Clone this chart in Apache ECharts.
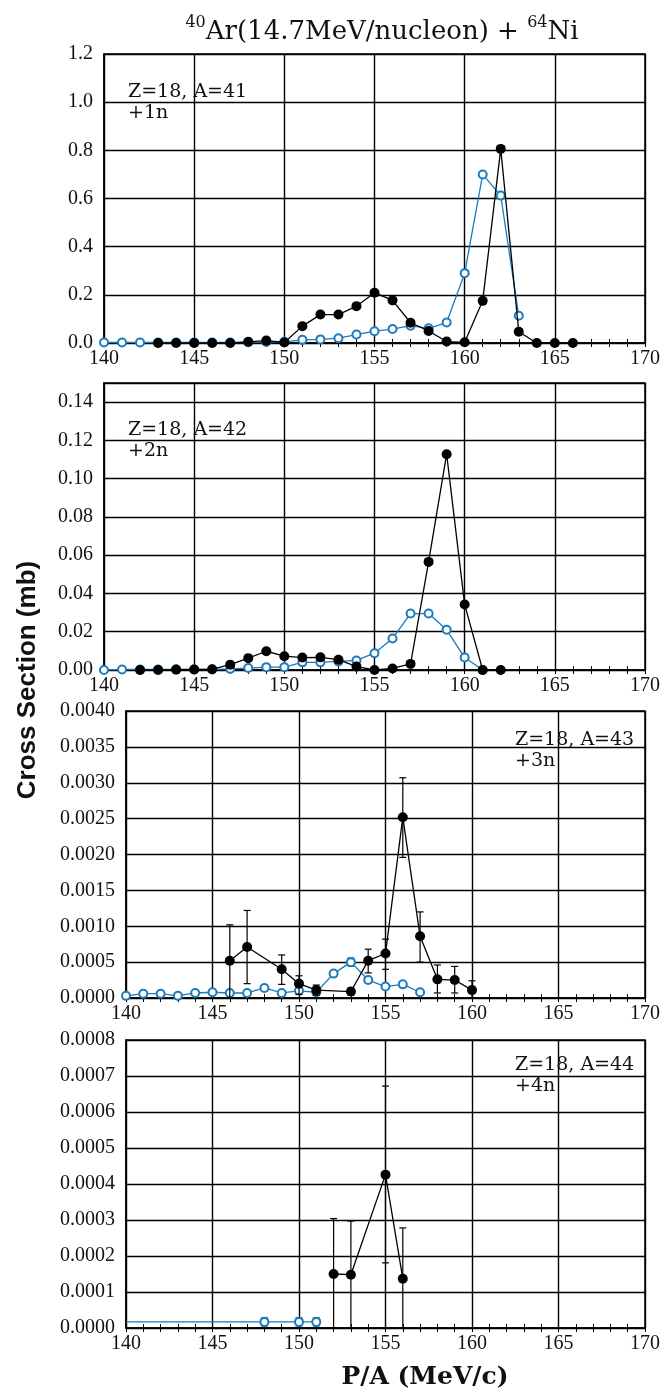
<!DOCTYPE html>
<html><head><meta charset="utf-8">
<script src="https://cdn.jsdelivr.net/npm/echarts@6/dist/echarts.min.js"></script>
<style>html,body{margin:0;padding:0;background:#fff}#c{width:664px;height:1392px}</style>
</head><body><div id="c"></div>
<script>
// ---------- data ----------
const xMin = 140, xMax = 170, xStep = 5;

// Panel 1: Z=18, A=41 (+1n)
const p1BlackX = [143,144,145,146,147,148,149,150,151,152,153,154,155,156,157,158,159,160,161,162,163,164,165,166];
const p1BlackY = [0.0,0.0,0.0,0.0,0.0,0.005,0.01,0.002,0.07,0.118,0.118,0.153,0.209,0.177,0.084,0.05,0.006,0.003,0.175,0.806,0.047,0.0,0.0,0.0];
const p1BlueX = [140,141,142,143,144,145,146,147,148,149,150,151,152,153,154,155,156,157,158,159,160,161,162,163];
const p1BlueY = [0.002,0.002,0.002,0.002,0.002,0.002,0.002,0.002,0.003,0.004,0.005,0.013,0.015,0.02,0.035,0.049,0.058,0.072,0.061,0.085,0.29,0.70,0.612,0.113];

// Panel 2: Z=18, A=42 (+2n)
const p2BlackX = [142,143,144,145,146,147,148,149,150,151,152,153,154,155,156,157,158,159,160,161,162];
const p2BlackY = [0.0,0.0,0.0002,0.0003,0.0004,0.0028,0.0062,0.0098,0.0072,0.0065,0.0066,0.0054,0.0018,0.0,0.0008,0.0032,0.0565,0.1128,0.0342,0.0,0.0];
const p2BlueX = [140,141,142,143,144,145,146,147,148,149,150,151,152,153,154,155,156,157,158,159,160,161];
const p2BlueY = [0.0,0.0003,0.0003,0.0003,0.0003,0.0003,0.0003,0.0006,0.001,0.0015,0.0015,0.004,0.004,0.0045,0.005,0.0088,0.0165,0.0295,0.0295,0.021,0.0065,0.0];

// Panel 3: Z=18, A=43 (+3n)
const p3BlackX  = [146,147,149,150,151,153,154,155,156,157,158,159,160];
const p3BlackY  = [0.00052,0.00071,0.0004,0.0002,0.00011,0.00009,0.00052,0.00062,0.00252,0.00086,0.00026,0.00025,0.00011];
const p3BlackLo = [0.0,0.0002,0.00019,0.00005,0.00004,0.00004,0.00035,0.0004,0.00196,0.0005,0.00007,0.00007,0.0];
const p3BlackHi = [0.00102,0.00122,0.0006,0.00031,0.00018,0.00014,0.00068,0.00082,0.00307,0.0012,0.00046,0.00044,0.00024];
const p3BlueX   = [140,141,142,143,144,145,146,147,148,149,150,151,152,153,154,155,156,157];
const p3BlueY   = [0.00003,0.00006,0.00006,0.00003,0.00007,0.00008,0.00007,0.00007,0.00014,0.00007,0.0001,0.00008,0.00034,0.0005,0.00025,0.00016,0.00019,0.00008];
const p3BlueErr = [0.00002,0.00002,0.00002,0.00002,0.00002,0.00002,0.00002,0.00002,0.00004,0.00002,0.00003,0.00003,0.00004,0.00006,0.00004,0.00003,0.00003,0.00003];

// Panel 4: Z=18, A=44 (+4n)
const p4BlackX  = [152,153,155,156];
const p4BlackY  = [0.00015,0.000148,0.000426,0.000137];
const p4BlackLo = [0.0,0.0,0.000181,0.0];
const p4BlackHi = [0.000304,0.000297,0.000672,0.000278];
const p4BlueX   = [140,148,150,151];
const p4BlueY   = [0.000017,0.000017,0.000017,0.000017];
const p4BlueErr = [0,0.000012,0.000012,0.000012];

// y-axis ranges and tick steps per panel
const yMaxes  = [1.2, 0.15, 0.004, 0.0008];
const ySteps  = [0.2, 0.02, 0.0005, 0.0001];
const yDigits = [1, 2, 4, 4];
const panelLabels = ['Z=18, A=41\n+1n','Z=18, A=42\n+2n','Z=18, A=43\n+3n','Z=18, A=44\n+4n'];

// ---------- styling ----------
const BLUE = '#1b7bbd';
const BLACK = '#000';
const TICKFONT = 'Liberation Serif';
const TXTFONT = 'DejaVu Serif';
const grids = [
  {left:104, right:19, top:54,   height:289},
  {left:104, right:19, top:383,  height:287},
  {left:126, right:19, top:711,  height:287},
  {left:126, right:19, top:1040, height:288}
];
const labelPos = [
  {x:128, y:82, align:'left'},
  {x:128, y:420, align:'left'},
  {x:515, y:730, align:'left'},
  {x:515, y:1055, align:'left'}
];

function pairs(xs, ys){ return xs.map((x,i)=>[x, ys[i]]); }
function errTriples(xs, lo, hi){ return xs.map((x,i)=>[x, lo[i], hi[i]]); }

function errRender(params, api){
  const x = api.value(0), lo = api.value(1), hi = api.value(2);
  const a = api.coord([x, lo]), b = api.coord([x, hi]);
  const w = 3.5;
  const st = {stroke: api.visual('color'), lineWidth: 1.2};
  return {type:'group', children:[
    {type:'line', shape:{x1:a[0], y1:a[1], x2:b[0], y2:b[1]}, style:st},
    {type:'line', shape:{x1:b[0]-w, y1:b[1], x2:b[0]+w, y2:b[1]}, style:st},
    {type:'line', shape:{x1:a[0]-w, y1:a[1], x2:a[0]+w, y2:a[1]}, style:st}
  ]};
}

const option = {
  animation:false,
  backgroundColor:'#fff',
  grid: grids.map(g=>Object.assign({show:true, borderColor:BLACK, borderWidth:1.5, backgroundColor:'transparent', containLabel:false, outerBoundsMode:'none'}, g)),
  xAxis: [], yAxis: [], series: [], graphic: []
};

for (let i=0;i<4;i++){
  option.xAxis.push({
    gridIndex:i, type:'value', position:'bottom', min:xMin, max:xMax, interval:xStep,
    axisLine:{show:true, onZero:false, lineStyle:{color:BLACK, width:1.5}},
    axisTick:{show:true, inside:true, length:4, lineStyle:{color:BLACK, width:1}},
    minorTick:{show:true, splitNumber:5, length:4, lineStyle:{color:BLACK, width:1}},
    splitLine:{show:true, lineStyle:{color:BLACK, width:1.4}},
    axisLabel:{show:true, fontFamily:TICKFONT, fontSize:20, color:'#111', margin:6, showMinLabel:true, showMaxLabel:true}
  });
  option.yAxis.push({
    gridIndex:i, type:'value', min:0, max:yMaxes[i], interval:ySteps[i],
    axisLine:{show:true, onZero:false, lineStyle:{color:BLACK, width:1.5}},
    axisTick:{show:false},
    splitLine:{show:true, lineStyle:{color:BLACK, width:1.4}},
    axisLabel:{show:true, fontFamily:TICKFONT, fontSize:20, color:'#111', margin:11,
      showMinLabel:true, showMaxLabel: i!==1,
      formatter:(v)=>v.toFixed(yDigits[i])}
  });
}
// mirrored top axes with minor ticks
for (let i=0;i<4;i++){
  option.xAxis.push({
    gridIndex:i, type:'value', position:'top', min:xMin, max:xMax, interval:xStep,
    axisLine:{show:false},
    axisTick:{show:true, inside:true, length:4, lineStyle:{color:BLACK, width:1}},
    minorTick:{show:true, splitNumber:5, length:4, lineStyle:{color:BLACK, width:1}},
    splitLine:{show:false}, axisLabel:{show:false}
  });
}

function lineSeries(i, data, color, filled){
  return {
    type:'line', xAxisIndex:i, yAxisIndex:i, data:data,
    symbol: filled ? 'circle' : 'emptyCircle',
    symbolSize: filled ? 10 : 8,
    showAllSymbol:true,
    lineStyle:{color:color, width:1.3},
    itemStyle: filled ? {color:color} : {color:color, borderColor:color, borderWidth:1.5},
    z: filled ? 4 : 3, clip:true, silent:true
  };
}
function errSeries(i, data, color){
  return {type:'custom', xAxisIndex:i, yAxisIndex:i, data:data, renderItem:errRender,
    encode:{x:0, y:[1,2]}, itemStyle:{color:color}, z: color===BLACK?4:3, silent:true};
}

// panel 1
option.series.push(lineSeries(0, pairs(p1BlueX, p1BlueY), BLUE, false));
option.series.push(lineSeries(0, pairs(p1BlackX, p1BlackY), BLACK, true));
// panel 2
option.series.push(lineSeries(1, pairs(p2BlueX, p2BlueY), BLUE, false));
option.series.push(lineSeries(1, pairs(p2BlackX, p2BlackY), BLACK, true));
// panel 3
option.series.push(errSeries(2, p3BlueX.map((x,k)=>[x, p3BlueY[k]-p3BlueErr[k], p3BlueY[k]+p3BlueErr[k]]), BLUE));
option.series.push(lineSeries(2, pairs(p3BlueX, p3BlueY), BLUE, false));
option.series.push(errSeries(2, errTriples(p3BlackX, p3BlackLo, p3BlackHi), BLACK));
option.series.push(lineSeries(2, pairs(p3BlackX, p3BlackY), BLACK, true));
// panel 4
const p4BlueData = pairs(p4BlueX, p4BlueY).map((d,k)=> p4BlueErr[k] === 0 ? {value:d, symbol:'none'} : d);
option.series.push(errSeries(3, p4BlueX.map((x,k)=>[x, p4BlueY[k]-p4BlueErr[k], p4BlueY[k]+p4BlueErr[k]]).filter((d,k)=>p4BlueErr[k]>0), BLUE));
option.series.push(lineSeries(3, p4BlueData, BLUE, false));
option.series.push(errSeries(3, errTriples(p4BlackX, p4BlackLo, p4BlackHi), BLACK));
option.series.push(lineSeries(3, pairs(p4BlackX, p4BlackY), BLACK, true));

// panel annotations
for (let i=0;i<4;i++){
  option.graphic.push({type:'text', x:labelPos[i].x, y:labelPos[i].y, z:10,
    style:{text:panelLabels[i], font:'19px "'+TXTFONT+'"', fill:'#111', lineHeight:21, align:labelPos[i].align, verticalAlign:'top'}});
}
// title
option.graphic.push({type:'text', x:382, y:30, z:10, style:{
  text:'{s|40}{n|Ar(14.7MeV/nucleon) + }{s|64}{n|Ni}', align:'center', verticalAlign:'middle',
  rich:{
    s:{fontFamily:TXTFONT, fontSize:16, fill:'#111', verticalAlign:'top', lineHeight:30},
    n:{fontFamily:TXTFONT, fontSize:26, fill:'#111', verticalAlign:'bottom', lineHeight:30}
  }}});
// y axis title
option.graphic.push({type:'text', x:28, y:680, rotation:Math.PI/2, z:10, style:{
  text:'Cross Section (mb)', font:'bold 26px "Liberation Sans"', fill:'#111', align:'center', verticalAlign:'middle'}});
// x axis title
option.graphic.push({type:'text', x:425, y:1377, z:10, style:{
  text:'P/A (MeV/c)', font:'bold 25px "DejaVu Serif"', fill:'#111', align:'center', verticalAlign:'middle'}});

const chart = echarts.init(document.getElementById('c'), null, {renderer:'canvas'});
chart.setOption(option);
</script></body></html>
